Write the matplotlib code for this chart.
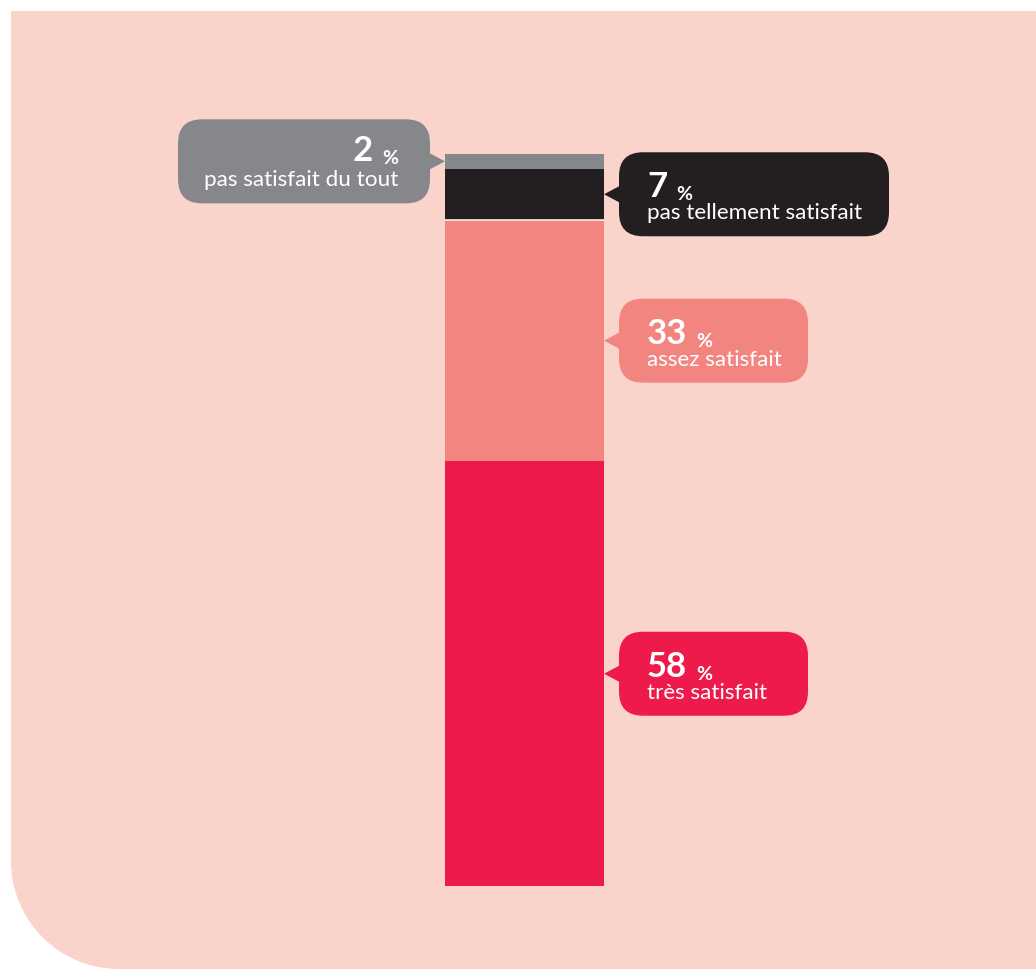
import matplotlib
matplotlib.use("Agg")
import matplotlib.pyplot as plt
from matplotlib.patches import FancyBboxPatch, Polygon, PathPatch
from matplotlib.path import Path

plt.rcParams['font.family'] = ['Lato', 'DejaVu Sans']

labels = ['très satisfait', 'assez satisfait', 'pas tellement satisfait', 'pas satisfait du tout']
values = [58, 33, 7, 2]
colors = ['#EE1A4B', '#F28580', '#231F20', '#86878A']
# which side the callout sits on, and its box width in pixels
sides = ['right', 'right', 'right', 'left']
box_w = [189, 189, 270, 252]

W, H = 1036, 970
fig = plt.figure(figsize=(W / 100, H / 100), dpi=100)

# background panel, pixel coordinates
bg = fig.add_axes([0, 0, 1, 1])
bg.set_xlim(0, W)
bg.set_ylim(H, 0)
bg.axis('off')
r = 108
k = 0.5523 * r
verts = [(11, 12), (W, 12), (W, H), (11 + r, H),
         (11 + r - k, H), (11, H - r + k), (11, H - r), (11, 12)]
codes = [Path.MOVETO, Path.LINETO, Path.LINETO, Path.LINETO,
         Path.CURVE4, Path.CURVE4, Path.CURVE4, Path.CLOSEPOLY]
bg.add_patch(PathPatch(Path(verts, codes), facecolor='#FAD3CB', edgecolor='none'))

# the stacked bar
ax = fig.add_axes([445 / W, (H - 887) / H, 159 / W, 732 / H])
ax.set_xlim(-0.5, 0.5)
ax.set_ylim(0, 100)
ax.axis('off')
bottom = 0
mids = []
for v, c in zip(values, colors):
    ax.bar(0, v, width=1.0, bottom=bottom, color=c, linewidth=0)
    mids.append(bottom + v / 2)
    bottom += v
ax.axhline(values[0] + values[1], color='#FDEEEA', lw=1.2)

# callouts
fig.canvas.draw()
inv = bg.transData.inverted()
for lab, v, c, side, bw, m in zip(labels, values, colors, sides, box_w, mids):
    yc = inv.transform(ax.transData.transform((0, m)))[1]
    bh = 84
    if side == 'right':
        tip = 604
        x0 = tip + 15
        tri = [(tip, yc), (x0 + 2, yc - 9), (x0 + 2, yc + 9)]
    else:
        tip = 445
        x0 = tip - 15 - bw
        tri = [(tip, yc), (tip - 17, yc - 9), (tip - 17, yc + 9)]
    bg.add_patch(FancyBboxPatch((x0, yc - bh / 2), bw, bh,
                                boxstyle='round,pad=0,rounding_size=24',
                                facecolor=c, edgecolor='none'))
    bg.add_patch(Polygon(tri, closed=True, facecolor=c, edgecolor='none'))
    if side == 'right':
        tx = x0 + 28
        num = bg.text(tx, yc + 2, str(v), color='white', fontsize=25,
                      fontweight='bold', ha='left', va='baseline')
        bg.annotate('%', xy=(1, 0), xycoords=num, xytext=(9, 0),
                    textcoords='offset pixels', color='white', fontsize=14,
                    fontweight='bold', ha='left', va='bottom')
        bg.text(tx, yc + 24, lab, color='white', fontsize=16.2,
                ha='left', va='baseline')
    else:
        tx = x0 + bw - 32
        pct = bg.text(tx, yc + 2, '%', color='white', fontsize=14,
                      fontweight='bold', ha='right', va='baseline')
        bg.annotate(str(v), xy=(0, 0), xycoords=pct, xytext=(-9, 0),
                    textcoords='offset pixels', color='white', fontsize=25,
                    fontweight='bold', ha='right', va='bottom')
        bg.text(tx, yc + 24, lab, color='white', fontsize=16.2,
                ha='right', va='baseline')

fig.savefig('out.png', dpi=100, facecolor='white')
